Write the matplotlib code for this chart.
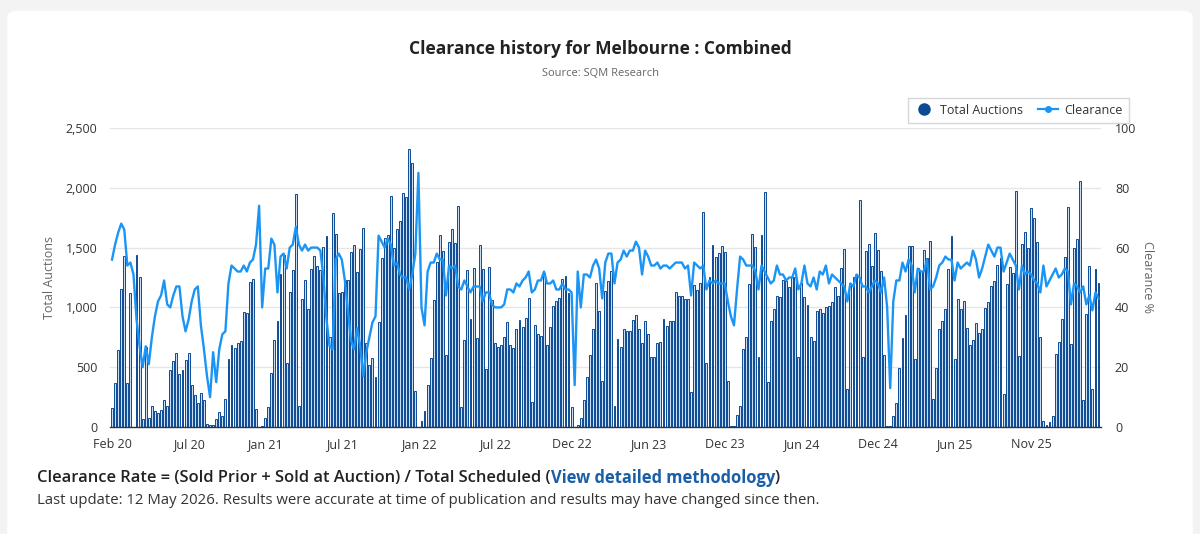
import matplotlib
matplotlib.use("Agg")
import matplotlib.pyplot as plt
from matplotlib.lines import Line2D
from matplotlib.patches import FancyBboxPatch
from matplotlib.ticker import FuncFormatter, MultipleLocator

plt.rcParams['font.family'] = ['Open Sans', 'DejaVu Sans']

# weekly total auctions (Melbourne), Feb 2020 -> May 2026
auctions = [
    160, 365, 645, 1150, 1430, 370, 1120, 0, 1440, 1250, 70, 670, 75, 175, 135, 120, 140, 225, 175, 475,
    555, 615, 445, 480, 560, 615, 355, 270, 200,
    285, 225, 25, 17, 17, 67, 123, 92, 231, 569, 683, 661, 700, 719, 964, 956, 1210, 1240, 153, 0,
    8, 72, 170, 449, 727, 889, 1280, 1438, 532,
    1131, 1313, 1948, 175, 1070, 1229, 984, 1318, 1432, 1349, 1313, 1502, 1600, 755, 1786, 1611, 1118,
    1131, 1229, 1230, 1466, 1522, 1299, 1485, 1661, 700, 518, 574, 421,
    875, 1410, 1577, 1605, 1931, 1499, 1653, 1725, 1959, 1926, 2321, 2204, 304, 0, 50, 134, 351, 574,
    1062, 1382, 1605, 1472, 602, 1550, 1655, 1541, 1848, 170, 727,
    1313, 900, 1332, 741, 1522, 1321, 482, 1341, 1062, 705, 672, 683, 755, 875, 686, 658, 817, 895,
    839, 909, 1076, 212, 853, 778, 761, 1285, 686, 839, 1012, 1054,
    1081, 1235, 1262, 1118, 170, 0, 17, 72, 226, 421, 599, 819, 1201, 970, 387, 1137, 1221, 1304, 175,
    736, 672, 817, 800, 806, 895, 939, 822, 700, 884,
    778, 582, 588, 700, 713, 900, 844, 886, 886, 1126, 1098, 1098, 1067, 1070, 295, 1187, 1145, 1201,
    1795, 532, 1257, 1522, 1424, 1458, 1513, 1466, 385, 8, 8, 100,
    178, 655, 750, 1196, 1614, 1502, 588, 1605, 1962, 373, 886, 987, 1095, 1090, 1229, 1221, 1168,
    1257, 1257, 582, 1201, 1090, 1017, 755, 719, 970, 987, 956, 1000,
    1012, 1048, 1168, 1098, 1332, 1485, 315, 1207, 1251, 1276, 1898, 588, 1474, 1527, 1349, 1619,
    1480, 1307, 602, 8, 8, 92, 198, 496, 741, 936, 1516, 1513, 569,
    1332, 1307, 1480, 1410, 1555, 231, 491, 819, 886, 987, 1321, 1597, 566, 1067, 987, 1054, 830, 686,
    727, 872, 783, 817, 992, 1042, 1182, 1224, 1352, 1410, 273,
    1196, 1341, 1290, 1976, 596, 1527, 1628, 1494, 1828, 1745, 1544, 750, 50, 14, 45, 92, 610, 713,
    903, 1419, 1837, 691, 1499, 1572, 2057, 226, 945, 1349, 318, 1321, 1201,
]

# weekly clearance rate, %
clearance = [
    56, 61, 65, 68, 66, 54, 55, 51, 36, 27, 20, 27, 21, 30, 37, 42, 44, 49, 41, 40,
    44, 47, 47, 37, 32, 36, 42, 46, 47,
    34, 26, 17, 10, 25, 15, 26, 31, 32, 48, 54, 53, 52, 52, 54, 52, 55, 56, 61, 74,
    40, 53, 53, 63, 61, 45, 57, 58, 53,
    60, 61, 67, 61, 59, 61, 59, 60, 60, 60, 59, 50, 36, 27, 26, 56, 58, 56, 49, 39,
    29, 26, 33, 27, 17, 25, 30, 35, 37,
    64, 62, 60, 63, 61, 54, 55, 51, 50, 50, 46, 51, 58, 85, 40, 34, 52, 55, 55, 58,
    56, 56, 44, 54, 53, 54, 47, 46, 49,
    47, 45, 47, 47, 47, 42, 45, 45, 41, 40, 40, 40, 41, 46, 46, 45, 48, 47, 49, 50,
    52, 45, 46, 49, 49, 52, 48, 48, 49, 46,
    46, 48, 46, 46, 45, 14, 52, 40, 51, 51, 50, 54, 56, 53, 43, 55, 58, 58, 48, 55,
    56, 59, 57, 59, 59, 62, 60, 51, 59,
    57, 54, 54, 55, 53, 54, 54, 53, 54, 55, 55, 55, 53, 54, 44, 55, 54, 53, 54, 46,
    49, 48, 49, 48, 48, 48, 42, 37, 34, 46,
    57, 56, 54, 54, 54, 52, 46, 54, 52, 50, 48, 49, 54, 51, 51, 49, 50, 50, 53, 46,
    48, 54, 48, 47, 50, 46, 52, 51, 54,
    48, 51, 50, 49, 48, 47, 42, 48, 47, 51, 50, 47, 47, 45, 47, 49, 48, 45, 50, 40,
    13, 42, 49, 49, 55, 52, 56, 54, 45,
    53, 52, 52, 56, 46, 47, 50, 54, 55, 57, 56, 56, 49, 55, 53, 54, 55, 54, 59, 56,
    50, 53, 57, 61, 59, 57, 60, 60, 52,
    55, 58, 56, 54, 46, 54, 51, 52, 51, 49, 48, 45, 54, 47, 49, 51, 53, 50, 51, 53,
    52, 41, 48, 47, 45, 47, 41, 44, 39, 45, 43,
]

tick_labels = ['Feb 20', 'Jul 20', 'Jan 21', 'Jul 21', 'Jan 22', 'Jul 22', 'Dec 22',
               'Jun 23', 'Dec 23', 'Jun 24', 'Dec 24', 'Jun 25', 'Nov 25']
tick_step = 25

bar_edge = '#0d4a94'
bar_fill = '#c9ddf3'
line_col = '#1b95f5'
grey = '#666666'

fig = plt.figure(figsize=(12, 5.34), dpi=100)
fig.patch.set_facecolor('#f3f3f3')
card = FancyBboxPatch((0.006, -0.05), 0.988, 1.03,
                      boxstyle='round,pad=0,rounding_size=0.012',
                      transform=fig.transFigure, facecolor='white',
                      edgecolor='none', zorder=-5)
fig.patches.append(card)

ax = fig.add_axes([0.0917, 0.2004, 0.8258, 0.5599])
ax.set_facecolor('none')
x = list(range(len(auctions)))
ax.bar(x, auctions, width=0.62, color=bar_fill, edgecolor=bar_edge, linewidth=0.7, zorder=2)
ax.set_xlim(-0.65, 322.8)
ax.set_ylim(0, 2500)
ax.yaxis.set_major_locator(MultipleLocator(500))
ax.yaxis.set_major_formatter(FuncFormatter(lambda v, p: f'{int(v):,}'))
ax.grid(axis='y', color='#e6e6e6', linewidth=1, zorder=0)
ax.set_axisbelow(True)
for s in ['top', 'right', 'left']:
    ax.spines[s].set_visible(False)
ax.spines['bottom'].set_color('#333333')
ax.spines['bottom'].set_linewidth(1)
ax.set_xticks(range(0, len(auctions), tick_step))
ax.set_xticklabels(tick_labels)
ax.tick_params(axis='x', length=0, pad=8, labelsize=9, labelcolor='#333333')
ax.tick_params(axis='y', length=0, pad=9, labelsize=9, labelcolor='#333333')
ax.set_ylabel('Total Auctions', fontsize=9, color=grey, labelpad=7)

ax2 = ax.twinx()
ax2.plot(x, clearance, color=line_col, linewidth=1.7, zorder=3)
ax2.set_ylim(0, 100)
ax2.yaxis.set_major_locator(MultipleLocator(20))
for s in ['top', 'right', 'left', 'bottom']:
    ax2.spines[s].set_visible(False)
ax2.tick_params(axis='y', length=0, pad=10, labelsize=9, labelcolor='#333333')
ax2.set_ylabel('Clearance %', fontsize=9, color=grey, rotation=270, labelpad=13)

fig.text(0.5, 1 - 49 / 534, 'Clearance history for Melbourne : Combined',
         ha='center', va='center', fontsize=12.5, fontweight='bold', color='#222222')
fig.text(0.5, 1 - 73 / 534, 'Source: SQM Research', ha='center', va='center',
         fontsize=8, color=grey)

handles = [Line2D([], [], marker='o', color=bar_edge, linestyle='none', markersize=8),
           Line2D([], [], marker='o', color=line_col, linewidth=1.6, markersize=4)]
fig.legend(handles, ['Total Auctions', 'Clearance'], loc='upper right',
           bbox_to_anchor=(0.946, 0.829), ncol=2, frameon=True, fancybox=False,
           edgecolor='#cccccc', fontsize=9, handlelength=1.6, columnspacing=1.2,
           handletextpad=0.5, borderpad=0.5, labelcolor='#333333')

# footer
fig.canvas.draw()
rend = fig.canvas.get_renderer()
fy = 1 - 478 / 534
fs = 11.9
t1 = fig.text(37 / 1200, fy, 'Clearance Rate = (Sold Prior + Sold at Auction) / Total Scheduled (',
              ha='left', va='center', fontsize=fs, fontweight='semibold', color='#222222')
bb = t1.get_window_extent(rend)
t2 = fig.text(bb.x1 / 1200, fy, 'View detailed methodology', ha='left', va='center',
              fontsize=fs, fontweight='bold', color='#1a5ea8')
bb = t2.get_window_extent(rend)
fig.text(bb.x1 / 1200, fy, ')', ha='left', va='center', fontsize=fs,
         fontweight='semibold', color='#222222')
fig.text(37 / 1200, 1 - 501 / 534,
         'Last update: 12 May 2026. Results were accurate at time of publication and results may have changed since then.',
         ha='left', va='center', fontsize=10.7, color='#333333')

fig.savefig('out.png', dpi=100)
